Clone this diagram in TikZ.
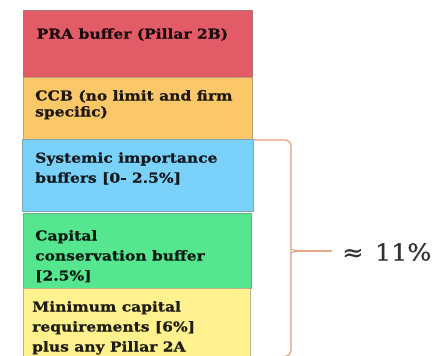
\documentclass[tikz,border=0pt]{standalone}
\usepackage{fontspec}
\setmainfont{DejaVu Serif}
\newfontfamily\layerfont[FakeStretch=1.13, FakeBold=0.8]{DejaVu Serif}
\newfontfamily\totalfont[FakeStretch=1.08, FakeBold=0.6]{DejaVu Serif}
\definecolor{praRed}{RGB}{226,92,104}
\definecolor{ccbOrange}{RGB}{250,200,104}
\definecolor{sysBlue}{RGB}{122,210,250}
\definecolor{ccbGreen}{RGB}{86,230,144}
\definecolor{minYellow}{RGB}{255,242,142}
\definecolor{braceCol}{RGB}{226,156,118}
\begin{document}
\begin{tikzpicture}[x=1pt,y=-1pt,
  layer/.style={draw=#1!60!black!70, line width=0.7pt, fill=#1, anchor=north west, inner sep=0pt},
  % anchor 'base' of a multi-line label sits on its last line
  lbl/.style={anchor=base west, inner sep=0pt, align=left,
    text=#1!12!black, font=\layerfont\bfseries\fontsize{13.7}{20}\selectfont},
  bracepath/.style={draw=braceCol, line width=1.1pt, rounded corners=6pt},
]
\clip (0,0) rectangle (432,356);
\fill[white] (0,0) rectangle (432,356);

% stacked capital layers
\node[layer=praRed, minimum width=229pt, minimum height=67.5pt] (pra) at (22.5,9.5) {};
\node[layer=ccbOrange, minimum width=229pt, minimum height=61.5pt] (ccb) at (22.5,77) {};
\node[layer=sysBlue, minimum width=230.5pt, minimum height=72.5pt] (sys) at (22,138.5) {};
\node[layer=ccbGreen, minimum width=228pt, minimum height=75pt] (cons) at (22.5,213) {};
\node[layer=minYellow, minimum width=227pt, minimum height=80pt] (mincap) at (23,288) {};

% labels
\node[lbl=praRed] (praT) at (36.5,38.7) {PRA buffer (Pillar 2B)};
\node[lbl=ccbOrange, font=\layerfont\bfseries\fontsize{13.7}{16}\selectfont] (ccbT) at (35,116.5) {CCB (no limit and firm\\specific)};
\node[lbl=sysBlue] (sysT) at (35,182.7) {Systemic importance\\buffers [0- 2.5\%]};
\node[lbl=ccbGreen] (consT) at (35,280.5) {Capital\\conservation buffer\\{}[2.5\%]};
\node[lbl=minYellow] (minT) at (32,351.5) {Minimum capital\\requirements [6\%]\\plus any Pillar 2A};

% brace spanning the lower layers
\coordinate (bTop) at (sys.north east |- 0,140);
\coordinate (bTip) at (332,251);
\coordinate (bBot) at (250,358);
\node[anchor=west, inner sep=0pt, text=black!80, font=\totalfont\fontsize{23.5}{26}\selectfont] (total) at (342,252) {≈\hspace{0.15em} 11\%};
\draw[bracepath] (bTop) -- (291,140) -- (291,244)
  .. controls (291,249) and (297,251) .. (306,251) -- (bTip);
\draw[bracepath] (bTip) -- (306,251)
  .. controls (297,251) and (291,253) .. (291,258) -- (291,356) -- (bBot);
\end{tikzpicture}
\end{document}
